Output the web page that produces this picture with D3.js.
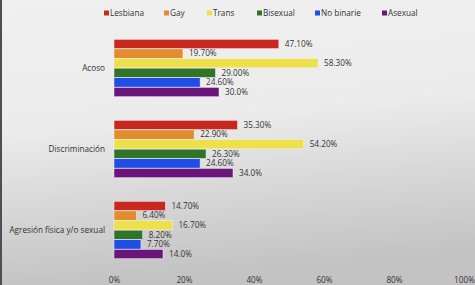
<!DOCTYPE html>
<html>
<head>
<meta charset="utf-8">
<script src="https://cdn.jsdelivr.net/npm/d3@7"></script>
<style>
  html, body { margin: 0; padding: 0; background: #efefef; }
  svg text { font-family: "Open Sans", "Liberation Sans", sans-serif; fill: #333333; }
</style>
</head>
<body>
<div id="chart"></div>
<script>
const categories = ['Acoso', 'Discriminación', 'Agresión física y/o sexual'];
const series = ['Lesbiana', 'Gay', 'Trans', 'Bisexual', 'No binarie', 'Asexual'];
const colors = ['#c9281f', '#e38b2f', '#ede04b', '#317427', '#1f4de6', '#6a157a'];
const lesbiana = [47.1, 35.3, 14.7];
const gay = [19.7, 22.9, 6.4];
const trans = [58.3, 54.2, 16.7];
const bisexual = [29.0, 26.3, 8.2];
const noBinarie = [24.6, 24.6, 7.7];
const asexual = [30.0, 34.0, 14.0];
const valueLabels = [
    ['47.10%', '19.70%', '58.30%', '29.00%', '24.60%', '30.0%'],
    ['35.30%', '22.90%', '54.20%', '26.30%', '24.60%', '34.0%'],
    ['14.70%', '6.40%', '16.70%', '8.20%', '7.70%', '14.0%']
];
const xTicks = [0, 20, 40, 60, 80, 100];

const allSeries = [lesbiana, gay, trans, bisexual, noBinarie, asexual];
const data = categories.map((c, i) => ({
    name: c,
    values: series.map((s, j) => ({ key: s, value: allSeries[j][i], label: valueLabels[i][j] }))
}));

const W = 475, H = 285;
const svg = d3.select('#chart').append('svg')
    .attr('width', W)
    .attr('height', H);

// background gradient
const defs = svg.append('defs');
const grad = defs.append('linearGradient')
    .attr('id', 'bg')
    .attr('x1', 0).attr('y1', 0).attr('x2', 0.15).attr('y2', 1);
grad.append('stop').attr('offset', '0%').attr('stop-color', '#f0f0f0');
grad.append('stop').attr('offset', '45%').attr('stop-color', '#ececec');
grad.append('stop').attr('offset', '100%').attr('stop-color', '#c3c3c3');
svg.append('rect').attr('width', W).attr('height', H).attr('fill', 'url(#bg)');
svg.append('rect').attr('width', 2).attr('height', H).attr('fill', '#4b5057');

// scales
const x = d3.scaleLinear().domain([0, 100]).range([114, 464]);

const y = d3.scaleBand()
    .domain(categories)
    .range([27.5, 270.5])
    .paddingInner(0.284)
    .paddingOuter(0.142);

const yInner = d3.scaleBand()
    .domain(series)
    .range([0, y.bandwidth()])
    .padding(0.03);

const color = d3.scaleOrdinal().domain(series).range(colors);

// x axis
const xAxis = svg.append('g')
    .attr('transform', 'translate(0,274)')
    .call(d3.axisBottom(x).tickValues(xTicks).tickSize(0).tickFormat(d => d + '%'));
xAxis.select('.domain').remove();
xAxis.selectAll('text')
    .style('font-size', '8.2px')
    .style('font-family', '"Open Sans", "Liberation Sans", sans-serif')
    .attr('fill', '#333333');

// groups
const groups = svg.selectAll('.group')
    .data(data)
    .enter()
    .append('g')
    .attr('class', 'group')
    .attr('transform', d => `translate(0,${y(d.name)})`);

groups.append('text')
    .attr('x', 105)
    .attr('y', y.bandwidth() / 2)
    .attr('dy', '0.35em')
    .attr('text-anchor', 'end')
    .style('font-size', '8.2px')
    .text(d => d.name);

groups.selectAll('rect')
    .data(d => d.values)
    .enter()
    .append('rect')
    .attr('x', x(0))
    .attr('y', d => yInner(d.key))
    .attr('width', d => x(d.value) - x(0))
    .attr('height', yInner.bandwidth())
    .attr('fill', d => color(d.key))
    .attr('stroke', '#f4f4f4')
    .attr('stroke-width', 0.5);

groups.selectAll('.val')
    .data(d => d.values)
    .enter()
    .append('text')
    .attr('class', 'val')
    .attr('x', d => x(d.value) + 6)
    .attr('y', d => yInner(d.key) + yInner.bandwidth() / 2)
    .attr('dy', '0.35em')
    .style('font-size', '8.2px')
    .text(d => d.label);

// legend
const legendX = [104, 164, 207, 257, 315, 382];
const legend = svg.append('g').attr('transform', 'translate(0,13)');
series.forEach((s, i) => {
    const row = legend.append('g').attr('transform', `translate(${legendX[i]},0)`);
    row.append('rect')
        .attr('x', 0)
        .attr('y', -2.5)
        .attr('width', 5)
        .attr('height', 5)
        .attr('fill', colors[i]);
    row.append('text')
        .attr('x', 6)
        .attr('y', 0)
        .attr('dy', '0.35em')
        .style('font-size', '8.2px')
        .text(s);
});
</script>
</body>
</html>
